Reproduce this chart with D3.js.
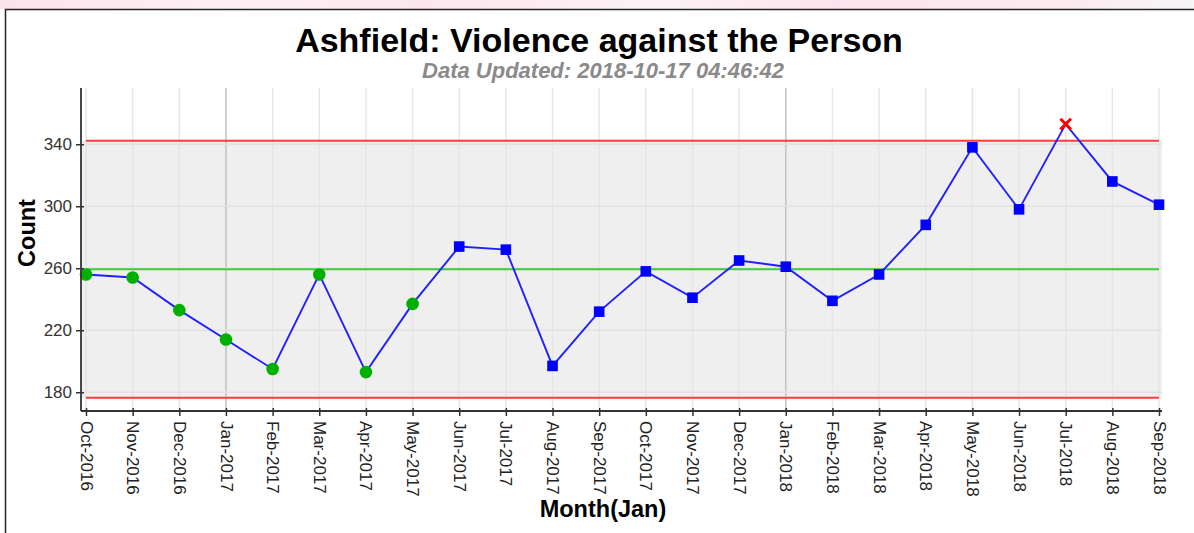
<!DOCTYPE html>
<html><head><meta charset="utf-8">
<script src="https://cdn.jsdelivr.net/npm/d3@7"></script>
<style>body{margin:0;background:#fff}svg{display:block;font-family:"Liberation Sans",Arial,sans-serif}</style>
</head><body><svg id="c" width="1194" height="533"></svg>
<script>
const months = ["Oct-2016","Nov-2016","Dec-2016","Jan-2017","Feb-2017","Mar-2017","Apr-2017","May-2017","Jun-2017","Jul-2017","Aug-2017","Sep-2017","Oct-2017","Nov-2017","Dec-2017","Jan-2018","Feb-2018","Mar-2018","Apr-2018","May-2018","Jun-2018","Jul-2018","Aug-2018","Sep-2018"];
const counts = [256,254,233,214,195,256,193,237,274,272,197,232,258,241,265,261,239,256,288,338,298,353,316,301];
// marker type per point: "circle" (run below mean), "square" (normal), "cross" (above UCL)
const markers = ["circle","circle","circle","circle","circle","circle","circle","circle","square","square","square","square","square","square","square","square","square","square","square","square","square","cross","square","square"];
const yTicks = [180,220,260,300,340];
const centerLine = 259.4, upperLimit = 342.3, lowerLimit = 176.5;
const title = "Ashfield: Violence against the Person";
const subtitle = "Data Updated: 2018-10-17 04:46:42";

const svg = d3.select("#c");
// top strip
const defs = svg.append("defs");
const g1 = defs.append("linearGradient").attr("id","pk");
[[0,"#fbe3ec"],[0.2,"#fdf0f4"],[0.35,"#fbe6ee"],[0.55,"#fdf2f6"],[0.7,"#fbe4ed"],[0.9,"#fcebf1"],[1,"#f6f6f6"]].forEach(s=>g1.append("stop").attr("offset",s[0]).attr("stop-color",s[1]));
svg.append("rect").attr("x",0).attr("y",0).attr("width",1194).attr("height",9).attr("fill","url(#pk)");
svg.append("path").attr("d","M5.5,533V9.5H1194").attr("fill","none").attr("stroke","#222").attr("stroke-width",1.5);

const L=81,R=1162,T=88,B=411;
const x = d3.scalePoint().domain(months).range([86,1159]);
const y = d3.scaleLinear().domain([167.9,376.3]).range([B,T]);

// band
svg.append("rect").attr("x",L).attr("width",R-L).attr("y",y(upperLimit)).attr("height",y(lowerLimit)-y(upperLimit)).attr("fill","#efefef");
// vertical grid
svg.append("g").selectAll("line").data(months).join("line")
  .attr("x1",d=>x(d)).attr("x2",d=>x(d)).attr("y1",T).attr("y2",B)
  .attr("stroke",d=>d.startsWith("Jan")?"#c4c4c4":"#e6e6e6").attr("stroke-width",d=>d.startsWith("Jan")?1.6:1.4);
// horizontal grid
svg.append("g").selectAll("line").data(yTicks).join("line")
  .attr("x1",L).attr("x2",R).attr("y1",d=>y(d)).attr("y2",d=>y(d)).attr("stroke","#e2e2e2").attr("stroke-width",1.4);
// control lines
const x0=x(months[0]), x1=x(months[months.length-1]);
[[upperLimit,"#ff3b3b"],[lowerLimit,"#ff3b3b"],[centerLine,"#3ccc3c"]].forEach(([v,c])=>{
  svg.append("line").attr("x1",x0).attr("x2",x1).attr("y1",y(v)).attr("y2",y(v)).attr("stroke",c).attr("stroke-width",2);
});
// series line
const data = months.map((m,i)=>({m,v:counts[i],k:markers[i]}));
svg.append("path").datum(data).attr("fill","none").attr("stroke","#2020ff").attr("stroke-width",1.9)
  .attr("d",d3.line().x(d=>x(d.m)).y(d=>y(d.v)));
// markers
svg.append("g").selectAll("circle").data(data.filter(d=>d.k==="circle")).join("circle")
  .attr("cx",d=>x(d.m)).attr("cy",d=>y(d.v)).attr("r",6.3).attr("fill","#00b000");
svg.append("g").selectAll("rect").data(data.filter(d=>d.k==="square")).join("rect")
  .attr("x",d=>x(d.m)-5.3).attr("y",d=>y(d.v)-5.3).attr("width",10.6).attr("height",10.6).attr("fill","#0000ff");
svg.append("g").selectAll("path").data(data.filter(d=>d.k==="cross")).join("path")
  .attr("d",d=>{const cx=x(d.m),cy=y(d.v),s=5.3;return `M${cx-s},${cy-s}L${cx+s},${cy+s}M${cx-s},${cy+s}L${cx+s},${cy-s}`;})
  .attr("stroke","#ff0000").attr("stroke-width",3).attr("fill","none");

// axes
const ya = svg.append("g").attr("transform",`translate(${L},0)`)
  .call(d3.axisLeft(y).tickValues(yTicks).tickSize(5).tickPadding(4));
ya.select(".domain").attr("d",`M0,${T}V${B}`).attr("stroke","#333").attr("stroke-width",1.8);
ya.selectAll(".tick line").attr("x1",3).attr("stroke","#333").attr("stroke-width",1.5);
ya.selectAll(".tick text").attr("font-size",17).attr("fill","#333").attr("font-family","Liberation Sans, Arial, sans-serif");

const xa = svg.append("g").attr("transform",`translate(0,${B})`)
  .call(d3.axisBottom(x).tickSize(5).tickSizeOuter(0));
xa.select(".domain").attr("d",`M${L},0H${R}`).attr("stroke","#333").attr("stroke-width",1.8);
xa.selectAll(".tick line").attr("y1",-3).attr("stroke","#333").attr("stroke-width",1.5);
xa.selectAll(".tick text").attr("font-size",17).attr("fill","#222").attr("font-family","Liberation Sans, Arial, sans-serif")
  .attr("text-anchor","start").attr("dy","0.35em").attr("y",0).attr("transform","translate(0,10) rotate(90)");

// titles
svg.append("text").attr("x",599).attr("y",52).attr("text-anchor","middle").attr("font-size",34).attr("font-weight","bold").attr("fill","#000").text(title);
svg.append("text").attr("x",603).attr("y",78).attr("text-anchor","middle").attr("font-size",22).attr("font-weight","bold").attr("font-style","italic").attr("fill","#8a8a8a").text(subtitle);
svg.append("text").attr("transform","translate(35,233) rotate(-90)").attr("text-anchor","middle").attr("font-size",23.5).attr("font-weight","bold").text("Count");
svg.append("text").attr("x",603).attr("y",517).attr("text-anchor","middle").attr("font-size",23.5).attr("font-weight","bold").text("Month(Jan)");
</script></body></html>
